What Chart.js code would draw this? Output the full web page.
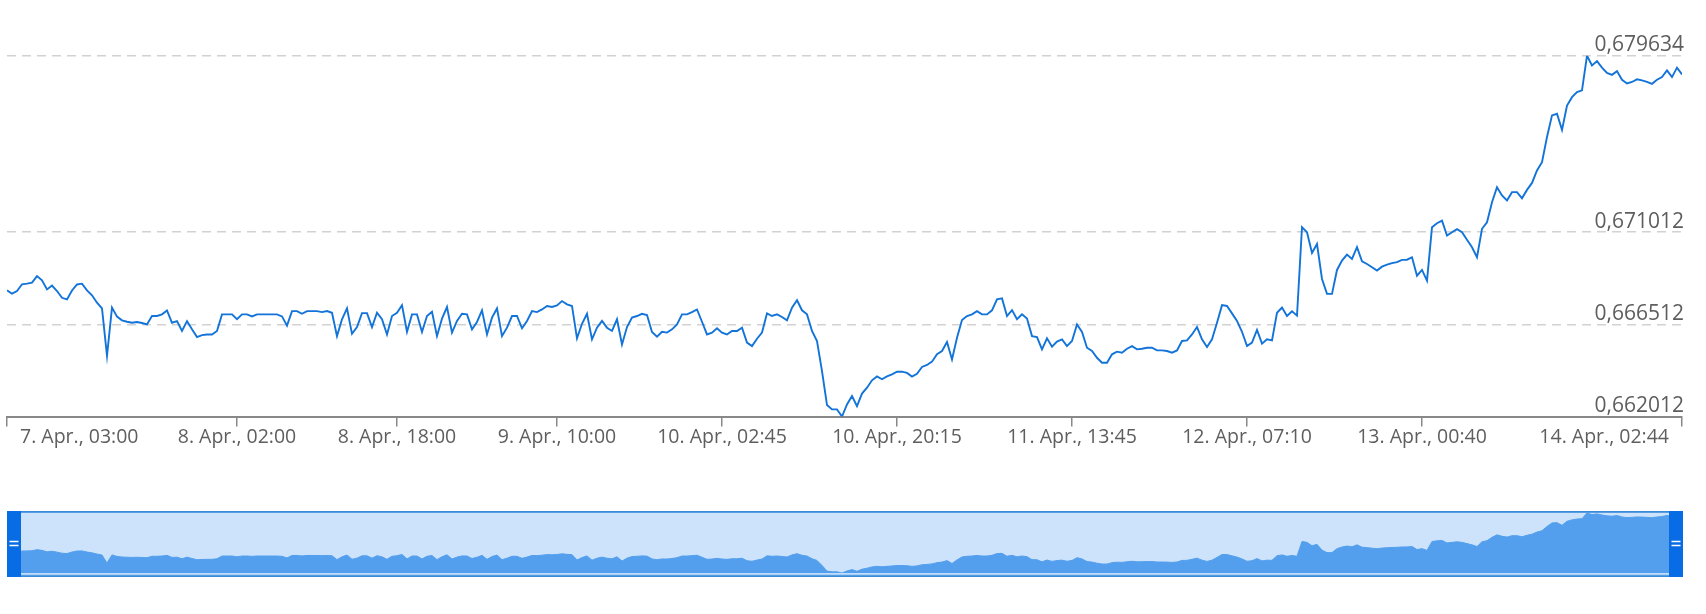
<!DOCTYPE html>
<html>
<head>
<meta charset="utf-8">
<script src="https://cdn.jsdelivr.net/npm/chart.js@4.4.1/dist/chart.umd.min.js"></script>
<style>
  html, body { margin: 0; padding: 0; background: #ffffff; }
  #wrap { position: relative; width: 1706px; height: 614px; }
  #main { position: absolute; left: 0; top: 0; }
  #nav { position: absolute; left: 0; top: 500px; }
</style>
</head>
<body>
<div id="wrap">
  <canvas id="main" width="1706" height="470" style="width:1706px;height:470px"></canvas>
  <canvas id="nav" width="1706" height="90" style="width:1706px;height:90px"></canvas>
</div>
<script>
// ---- data (ordinal positions, one value per point) ----
const rates = [
  0.66817,0.66801,0.66814,0.66847,0.66850,0.66855,0.66887,0.66866,0.66822,0.66841,
  0.66814,0.66781,0.66773,0.66817,0.66846,0.66850,0.66817,0.66793,0.66757,0.66729,
  0.66497,0.66733,0.66689,0.66671,0.66664,0.66659,0.66663,0.66658,0.66651,0.66692,
  0.66692,0.66700,0.66719,0.66659,0.66667,0.66619,0.66667,0.66627,0.66589,0.66599,
  0.66602,0.66602,0.66619,0.66700,0.66700,0.66700,0.66676,0.66700,0.66700,0.66690,
  0.66700,0.66700,0.66700,0.66700,0.66700,0.66690,0.66645,0.66716,0.66716,0.66703,
  0.66716,0.66716,0.66716,0.66711,0.66716,0.66708,0.66594,0.66676,0.66729,0.66605,
  0.66638,0.66706,0.66706,0.66638,0.66708,0.66676,0.66602,0.66692,0.66708,0.66745,
  0.66615,0.66700,0.66700,0.66614,0.66692,0.66713,0.66594,0.66679,0.66736,0.66611,
  0.66668,0.66703,0.66700,0.66627,0.66663,0.66720,0.66602,0.66684,0.66729,0.66594,
  0.66635,0.66692,0.66692,0.66632,0.66668,0.66716,0.66711,0.66724,0.66741,0.66736,
  0.66744,0.66765,0.66749,0.66741,0.66583,0.66654,0.66703,0.66578,0.66635,0.66668,
  0.66635,0.66619,0.66676,0.66553,0.66638,0.66684,0.66692,0.66703,0.66697,0.66614,
  0.66591,0.66615,0.66611,0.66627,0.66651,0.66700,0.66700,0.66711,0.66724,0.66664,
  0.66602,0.66611,0.66632,0.66611,0.66602,0.66619,0.66619,0.66635,0.66562,0.66545,
  0.66581,0.66611,0.66705,0.66692,0.66700,0.66687,0.66671,0.66733,0.66769,0.66720,
  0.66700,0.66619,0.66570,0.66423,0.66257,0.66236,0.66236,0.662012,0.66260,0.66301,
  0.66252,0.66313,0.66342,0.66378,0.66397,0.66383,0.66397,0.66407,0.66420,0.66420,
  0.66414,0.66396,0.66410,0.66443,0.66453,0.66469,0.66505,0.66521,0.66565,0.66480,
  0.66586,0.66672,0.66692,0.66700,0.66716,0.66700,0.66700,0.66720,0.66773,0.66778,
  0.66692,0.66721,0.66676,0.66700,0.66680,0.66594,0.66589,0.66529,0.66583,0.66542,
  0.66567,0.66578,0.66545,0.66570,0.66651,0.66614,0.66537,0.66521,0.66488,0.66464,
  0.66464,0.66505,0.66518,0.66513,0.66532,0.66545,0.66529,0.66532,0.66537,0.66537,
  0.66524,0.66524,0.66521,0.66513,0.66524,0.66570,0.66573,0.66602,0.66638,0.66578,
  0.66541,0.66578,0.66659,0.66745,0.66741,0.66705,0.66668,0.66615,0.66545,0.66562,
  0.66624,0.66557,0.66578,0.66573,0.66708,0.66733,0.66692,0.66715,0.66694,0.67126,
  0.67101,0.67000,0.67044,0.66873,0.66800,0.66800,0.66917,0.66963,0.66992,0.66971,
  0.67028,0.66959,0.66946,0.66930,0.66914,0.66933,0.66943,0.66950,0.66955,0.66966,
  0.66967,0.66979,0.66889,0.66917,0.66865,0.67126,0.67145,0.67158,0.67085,0.67101,
  0.67116,0.67101,0.67064,0.67028,0.66979,0.67118,0.67150,0.67248,0.67321,0.67281,
  0.67256,0.67297,0.67297,0.67267,0.67308,0.67342,0.67403,0.67443,0.67566,0.67672,
  0.67680,0.67601,0.67720,0.67761,0.67786,0.67794,0.679634,0.67916,0.67937,0.67905,
  0.67879,0.67870,0.67888,0.67846,0.67828,0.67835,0.67848,0.67843,0.67836,0.67826,
  0.67846,0.67859,0.67892,0.67859,0.67905,0.67872
];

// x-axis ticks: ordinal point positions and their labels
const xTickIndex = [0, 46, 78, 110, 143, 178, 213, 248, 283, 335];
const xTickLabels = [
  "7. Apr., 03:00", "8. Apr., 02:00", "8. Apr., 18:00", "9. Apr., 10:00",
  "10. Apr., 02:45", "10. Apr., 20:15", "11. Apr., 13:45", "12. Apr., 07:10",
  "13. Apr., 00:40", "14. Apr., 02:44"
];

// y-axis ticks
const yTicks = [0.662012, 0.666512, 0.671012, 0.679634];
const yTickLabels = ["0,662012", "0,666512", "0,671012", "0,679634"];

// ---- build ----
const points = rates.map((v, i) => ({ x: i, y: v }));
const lastIndex = rates.length - 1;

const axisText = {
  id: 'axisText',
  afterDraw(chart) {
    const { ctx, chartArea, scales } = chart;
    const xs = scales.x, ys = scales.y;
    ctx.save();
    ctx.fillStyle = '#5e5e5e';
    ctx.textBaseline = 'alphabetic';
    // y labels: right aligned, sitting above their grid lines
    ctx.font = '21px "Open Sans", "Noto Sans", sans-serif';
    ctx.textAlign = 'right';
    yTicks.forEach((v, i) => {
      ctx.fillText(yTickLabels[i], chartArea.right + 2, ys.getPixelForValue(v) - 4.5);
    });
    // x labels: centred on ticks, pushed inside at the ends
    ctx.font = '19.5px "Open Sans", "Noto Sans", sans-serif';
    ctx.textAlign = 'left';
    const inset = 13;
    xTickIndex.forEach((idx, i) => {
      const px = xs.getPixelForValue(idx);
      const w = ctx.measureText(xTickLabels[i]).width;
      let left = px - w / 2;
      if (left < chartArea.left + inset) left = chartArea.left + inset;
      if (left + w > chartArea.right - inset) left = chartArea.right - inset - w;
      ctx.fillText(xTickLabels[i], left, chartArea.bottom + 26.5);
    });
    ctx.restore();
  }
};

new Chart(document.getElementById('main'), {
  type: 'line',
  data: {
    datasets: [{
      data: points,
      borderColor: '#1273d9',
      borderWidth: 1.9,
      pointRadius: 0,
      pointHoverRadius: 0,
      tension: 0,
      fill: false
    }]
  },
  options: {
    responsive: false,
    animation: false,
    events: [],
    layout: { padding: { left: 7, right: 24, top: 55.7, bottom: 0 } },
    plugins: { legend: { display: false }, tooltip: { enabled: false } },
    scales: {
      x: {
        type: 'linear',
        min: 0,
        max: lastIndex,
        afterBuildTicks: (s) => { s.ticks = xTickIndex.map(v => ({ value: v })); },
        afterFit: (s) => { s.height = 53.5; },
        ticks: { display: false, autoSkip: false },
        grid: {
          drawOnChartArea: false,
          drawTicks: true,
          tickLength: 10,
          tickWidth: 1.5,
          tickColor: '#888888',
          color: '#888888',
          lineWidth: 1.5
        },
        border: { display: true, color: '#888888', width: 2 }
      },
      y: {
        type: 'linear',
        position: 'right',
        min: yTicks[0],
        max: yTicks[yTicks.length - 1],
        afterBuildTicks: (s) => { s.ticks = yTicks.map(v => ({ value: v })); },
        afterFit: (s) => { s.width = 0; },
        ticks: { display: false, autoSkip: false },
        grid: {
          drawTicks: false,
          color: '#d2d2d2',
          lineWidth: 1.5,
          borderDash: [9, 6]
        },
        border: { display: false, dash: [9, 6] }
      }
    }
  },
  plugins: [axisText]
});

// ---- navigator ----
const navDecor = {
  id: 'navDecor',
  beforeDatasetsDraw(chart) {
    const { ctx, chartArea } = chart;
    ctx.save();
    ctx.fillStyle = '#cce3fb';
    ctx.fillRect(chartArea.left, chartArea.top - 2, chartArea.right - chartArea.left + 1, chartArea.bottom - chartArea.top + 6);
    ctx.restore();
  },
  afterDraw(chart) {
    const { ctx, chartArea } = chart;
    const L = chartArea.left, R = chartArea.right + 1;
    const T = chartArea.top - 2, B = chartArea.bottom + 4;
    ctx.save();
    // light bottom line
    ctx.strokeStyle = '#a6cff7';
    ctx.lineWidth = 1.5;
    ctx.beginPath();
    ctx.moveTo(L, chartArea.bottom + 1.5);
    ctx.lineTo(R, chartArea.bottom + 1.5);
    ctx.stroke();
    // outline
    ctx.strokeStyle = '#3b8bdb';
    ctx.lineWidth = 1.8;
    ctx.strokeRect(L + 0.9, T + 0.9, R - L - 1.8, B - T - 1.8);
    // handles
    const hw = 14;
    ctx.fillStyle = '#086de4';
    ctx.fillRect(L, T, hw, B - T);
    ctx.fillRect(R - hw, T, hw, B - T);
    ctx.strokeStyle = '#ffffff';
    ctx.lineWidth = 1.4;
    const gy = (T + B) / 2;
    [L, R - hw].forEach(hx => {
      ctx.beginPath();
      ctx.moveTo(hx + 2.5, gy - 2.5); ctx.lineTo(hx + hw - 2.5, gy - 2.5);
      ctx.moveTo(hx + 2.5, gy + 1.5); ctx.lineTo(hx + hw - 2.5, gy + 1.5);
      ctx.stroke();
    });
    ctx.restore();
  }
};

new Chart(document.getElementById('nav'), {
  type: 'line',
  data: {
    datasets: [{
      data: points,
      borderColor: '#549fed',
      borderWidth: 1,
      backgroundColor: '#549fed',
      fill: 'start',
      pointRadius: 0,
      tension: 0
    }]
  },
  options: {
    responsive: false,
    animation: false,
    events: [],
    layout: { padding: { left: 7, right: 24, top: 13, bottom: 17 } },
    plugins: { legend: { display: false }, tooltip: { enabled: false } },
    scales: {
      x: { type: 'linear', display: false, min: 0, max: lastIndex },
      y: { type: 'linear', display: false, min: yTicks[0], max: yTicks[yTicks.length - 1] }
    }
  },
  plugins: [navDecor]
});
</script>
</body>
</html>
